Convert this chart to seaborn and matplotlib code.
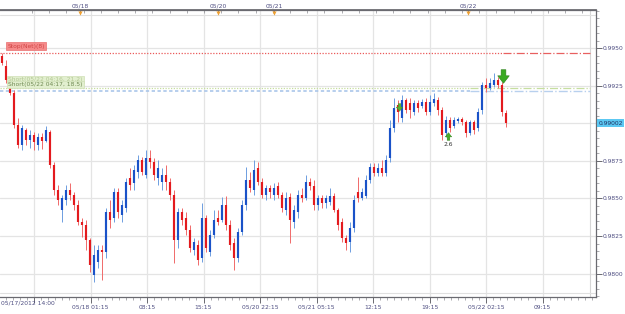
import numpy as np
import pandas as pd
import matplotlib
matplotlib.use("Agg")
import matplotlib.pyplot as plt
import matplotlib.transforms as mtransforms
from matplotlib.path import Path
import seaborn as sns

# ---------------- data (EUR/CHF-like 30 min candles) ----------------
opens = [0.99448, 0.99381, 0.99288, 0.99202, 0.98989, 0.98856, 0.98955, 0.98889, 0.98922, 0.98856,
         0.98909, 0.98882, 0.98942, 0.98723, 0.98556, 0.98423, 0.98490, 0.98556, 0.98523, 0.98457,
         0.98344, 0.98324, 0.98224, 0.97991, 0.98078, 0.98157, 0.98144, 0.98410, 0.98370, 0.98543,
         0.98390, 0.98437, 0.98636, 0.98603, 0.98676, 0.98756, 0.98656, 0.98769, 0.98743, 0.98636,
         0.98610, 0.98656, 0.98610, 0.98523, 0.98224, 0.98410, 0.98370, 0.98290, 0.98157, 0.98191,
         0.98104, 0.98370, 0.98144, 0.98257, 0.98370, 0.98357, 0.98457, 0.98324, 0.98204, 0.98104,
         0.98277, 0.98457, 0.98623, 0.98556, 0.98703, 0.98610, 0.98523, 0.98570, 0.98523, 0.98583,
         0.98523, 0.98423, 0.98510, 0.98344, 0.98410, 0.98523, 0.98503, 0.98610, 0.98583, 0.98457,
         0.98503, 0.98470, 0.98477, 0.98517, 0.98423, 0.98344, 0.98237, 0.98211, 0.98304, 0.98543,
         0.98503, 0.98517, 0.98623, 0.98709, 0.98670, 0.98703, 0.98670, 0.98769, 0.98969, 0.99122,
         0.99035, 0.99155, 0.99135, 0.99075, 0.99135, 0.99115, 0.99142, 0.99075, 0.99135, 0.99155,
         0.99088, 0.98936, 0.99022, 0.98982, 0.99015, 0.99029, 0.99009, 0.98936, 0.99009, 0.98969,
         0.99088, 0.99255, 0.99235, 0.99255, 0.99288, 0.99255, 0.99068]
highs = [0.99468, 0.99421, 0.99301, 0.99221, 0.99035, 0.98989, 0.98969, 0.98955, 0.98942, 0.98936,
         0.98936, 0.98982, 0.98955, 0.98743, 0.98590, 0.98523, 0.98590, 0.98603, 0.98543, 0.98490,
         0.98370, 0.98357, 0.98237, 0.98191, 0.98191, 0.98191, 0.98437, 0.98490, 0.98570, 0.98570,
         0.98490, 0.98636, 0.98703, 0.98723, 0.98789, 0.98776, 0.98822, 0.98822, 0.98769, 0.98756,
         0.98703, 0.98723, 0.98636, 0.98556, 0.98437, 0.98437, 0.98410, 0.98324, 0.98237, 0.98224,
         0.98470, 0.98390, 0.98290, 0.98423, 0.98423, 0.98510, 0.98517, 0.98357, 0.98237, 0.98304,
         0.98490, 0.98709, 0.98676, 0.98756, 0.98743, 0.98636, 0.98590, 0.98590, 0.98603, 0.98610,
         0.98543, 0.98543, 0.98537, 0.98457, 0.98556, 0.98570, 0.98656, 0.98636, 0.98623, 0.98523,
         0.98523, 0.98523, 0.98570, 0.98537, 0.98437, 0.98370, 0.98257, 0.98344, 0.98523, 0.98643,
         0.98570, 0.98656, 0.98736, 0.98736, 0.98736, 0.98756, 0.98789, 0.99022, 0.99168, 0.99155,
         0.99188, 0.99168, 0.99168, 0.99155, 0.99155, 0.99162, 0.99168, 0.99188, 0.99202, 0.99175,
         0.99108, 0.99049, 0.99042, 0.99042, 0.99042, 0.99042, 0.99022, 0.99022, 0.99022, 0.99102,
         0.99275, 0.99301, 0.99301, 0.99335, 0.99308, 0.99275, 0.99088]
lows = [0.99388, 0.99268, 0.99188, 0.98969, 0.98836, 0.98822, 0.98856, 0.98836, 0.98822, 0.98822,
        0.98829, 0.98876, 0.98703, 0.98523, 0.98457, 0.98344, 0.98457, 0.98490, 0.98423, 0.98324,
        0.98244, 0.98157, 0.98011, 0.97945, 0.98038, 0.97958, 0.98104, 0.98304, 0.98344, 0.98370,
        0.98344, 0.98410, 0.98556, 0.98556, 0.98636, 0.98656, 0.98636, 0.98703, 0.98623, 0.98590,
        0.98556, 0.98556, 0.98490, 0.98071, 0.98171, 0.98324, 0.98257, 0.98144, 0.98124, 0.98058,
        0.98078, 0.98144, 0.98118, 0.98237, 0.98324, 0.98344, 0.98290, 0.98157, 0.98024, 0.98078,
        0.98257, 0.98423, 0.98543, 0.98523, 0.98590, 0.98503, 0.98490, 0.98503, 0.98490, 0.98503,
        0.98410, 0.98390, 0.98204, 0.98304, 0.98370, 0.98477, 0.98490, 0.98556, 0.98423, 0.98423,
        0.98437, 0.98437, 0.98457, 0.98410, 0.98290, 0.98211, 0.98157, 0.98144, 0.98277, 0.98477,
        0.98490, 0.98503, 0.98603, 0.98650, 0.98650, 0.98650, 0.98650, 0.98743, 0.98942, 0.99009,
        0.99009, 0.99068, 0.99035, 0.99055, 0.99075, 0.99102, 0.99055, 0.99055, 0.99115, 0.99055,
        0.98889, 0.98909, 0.98942, 0.98969, 0.99002, 0.98989, 0.98909, 0.98922, 0.98929, 0.98949,
        0.99062, 0.99208, 0.99221, 0.99241, 0.99235, 0.99049, 0.98975]
closes = [0.99401, 0.99288, 0.99202, 0.98989, 0.98856, 0.98969, 0.98889, 0.98922, 0.98876, 0.98909,
          0.98882, 0.98955, 0.98723, 0.98556, 0.98490, 0.98503, 0.98556, 0.98523, 0.98457, 0.98344,
          0.98324, 0.98224, 0.98058, 0.98124, 0.98157, 0.98144, 0.98410, 0.98357, 0.98543, 0.98410,
          0.98457, 0.98610, 0.98590, 0.98689, 0.98756, 0.98676, 0.98769, 0.98743, 0.98656, 0.98703,
          0.98656, 0.98610, 0.98523, 0.98224, 0.98410, 0.98357, 0.98290, 0.98171, 0.98211, 0.98091,
          0.98370, 0.98171, 0.98257, 0.98357, 0.98344, 0.98457, 0.98324, 0.98191, 0.98104, 0.98277,
          0.98457, 0.98623, 0.98570, 0.98689, 0.98610, 0.98523, 0.98570, 0.98543, 0.98570, 0.98523,
          0.98437, 0.98503, 0.98357, 0.98423, 0.98523, 0.98503, 0.98610, 0.98583, 0.98457, 0.98503,
          0.98470, 0.98503, 0.98517, 0.98423, 0.98324, 0.98237, 0.98204, 0.98304, 0.98490, 0.98503,
          0.98543, 0.98623, 0.98709, 0.98670, 0.98703, 0.98670, 0.98756, 0.98969, 0.99102, 0.99075,
          0.99155, 0.99088, 0.99088, 0.99135, 0.99102, 0.99142, 0.99075, 0.99142, 0.99162, 0.99088,
          0.98922, 0.99022, 0.98969, 0.99022, 0.99029, 0.99009, 0.98936, 0.99009, 0.98955, 0.99075,
          0.99255, 0.99235, 0.99268, 0.99288, 0.99255, 0.99075, 0.99002]

first_label = "05/17/2012 14:00"
bottom_labels = ["", "05/18 01:15", "08:15", "15:15", "05/20 22:15", "05/21 05:15",
                 "12:15", "19:15", "05/22 02:15", "09:15"]
top_labels = ["05/18", "05/20", "05/21", "05/22"]
price_ticks = [0.9800, 0.9825, 0.9850, 0.9875, 0.9900, 0.9925, 0.9950]
stop_level = 0.99470
stop_text = "Stop(Net)(8)"
short_levels = [0.99235, 0.99218]
short_texts = ["Short(05/22 04:16, 21.2)", "Short(05/22 04:17, 18.5)"]
last_price = 0.99002
signal_text = "2.6"

# ---------------- layout / style ----------------
sns.set_theme(style="white")
plt.rcParams['font.family'] = ['DejaVu Sans']
FS = 4.3
TXT = '#4c4c80'

fig = plt.figure(figsize=(6.25, 3.14), dpi=100)
fig.patch.set_facecolor('white')
ax = fig.add_axes([0.0, 17 / 314, 596 / 625, 287 / 314])
ax.set_facecolor('white')

df = pd.DataFrame({'open': opens, 'high': highs, 'low': lows, 'close': closes})
df['idx'] = np.arange(len(df))
up = df[df['close'] >= df['open']]
dn = df[df['close'] < df['open']]

XMIN, XMAX = -0.5, 148.5
YMIN, YMAX = 0.978449, 0.997535
ax.set_xlim(XMIN, XMAX)
ax.set_ylim(YMIN, YMAX)

# grid
major_x = [8 + 14.125 * k for k in range(10)]
for xv in major_x:
    ax.axvline(xv, color='#e4e4e4', lw=0.9, zorder=0)
for yv in price_ticks:
    ax.axhline(yv, color='#e4e4e4', lw=0.9, zorder=0)
# inner light frame
ax.axvline(147.0, color='#d6d6d6', lw=0.8, zorder=0)
ax.axhline(0.99720, color='#e0e0e0', lw=0.8, zorder=0)
ax.axhline(0.97872, color='#e0e0e0', lw=0.8, zorder=0)

# candles
ax.vlines(up['idx'], up['low'], up['high'], color='#6d9de0', lw=0.7, zorder=3)
ax.vlines(dn['idx'], dn['low'], dn['high'], color='#f06a6a', lw=0.7, zorder=3)
ax.vlines(up['idx'], up['open'], up['close'], color='#1a52c8', lw=1.55, zorder=4)
ax.vlines(dn['idx'], dn['open'], dn['close'], color='#e31a1e', lw=1.55, zorder=4)

# stop line
ax.plot([XMIN, 125.25], [stop_level, stop_level], color='#ea5a5a', lw=0.9, ls=(0, (1, 1.3)), zorder=2)
ax.plot([125.25, 147.0], [stop_level, stop_level], color='#e86060', lw=0.9, ls='-.', zorder=2)
ax.text(1.3, 0.99514, stop_text, fontsize=FS, color='#d04545', va='center', ha='left', zorder=6,
        bbox=dict(boxstyle='square,pad=0.25', fc='#f58a8a', ec='#e87070', lw=0.5))

# short entry lines
ax.plot([XMIN, 117], [short_levels[0]] * 2, color='#c6dea0', lw=0.9, ls=(0, (1, 1.2)), zorder=2)
ax.plot([XMIN, 117], [short_levels[1]] * 2, color='#aac6ea', lw=1.2, ls=(0, (2, 1.5)), zorder=2)
ax.plot([117, 147], [short_levels[0]] * 2, color='#c6dea0', lw=0.9, ls='-.', zorder=2)
ax.plot([117, 147], [short_levels[1]] * 2, color='#b8d0ee', lw=1.0, ls='-.', zorder=2)
ax.text(1.5, 0.99292, short_texts[0], fontsize=FS, color='#b4c894', va='center', ha='left', zorder=6,
        bbox=dict(boxstyle='square,pad=0.2', fc='#e2efcf', ec='#cfe0b6', lw=0.5))
ax.text(1.5, 0.99258, short_texts[1], fontsize=FS, color='#6f8a52', va='center', ha='left', zorder=7,
        bbox=dict(boxstyle='square,pad=0.2', fc='#e2efcf', ec='#cfe0b6', lw=0.5))

# signal arrows
down_arrow = Path([(-0.35, 1), (0.35, 1), (0.35, 0.1), (0.85, 0.1), (0, -1), (-0.85, 0.1),
                   (-0.35, 0.1), (-0.35, 1)], closed=True)
up_arrow = Path([(-0.35, -1), (0.35, -1), (0.35, -0.1), (0.85, -0.1), (0, 1), (-0.85, -0.1),
                 (-0.35, -0.1), (-0.35, -1)], closed=True)
arrows = pd.DataFrame({'idx': [125.25, 99.25], 'price': [0.99315, 0.99108]})
sns.scatterplot(data=arrows.iloc[[0]], x='idx', y='price', marker=down_arrow, s=95,
                color='#3aaa22', edgecolor='#2a7d16', linewidth=0.4, ax=ax, zorder=8, legend=False)
sns.scatterplot(data=arrows.iloc[[1]], x='idx', y='price', marker=down_arrow, s=30,
                color='#5ab030', edgecolor='#3a8a1e', linewidth=0.3, ax=ax, zorder=8, legend=False)
sns.scatterplot(x=[111.5], y=[0.98916], marker=up_arrow, s=30, color='#4aac28',
                edgecolor='#2a7d16', linewidth=0.3, ax=ax, zorder=8, legend=False)
ax.text(111.5, 0.98860, signal_text, fontsize=FS, color='#333333', ha='center', va='center', zorder=8)

# ---------------- axes ----------------
ax.set_xlabel('')
ax.set_ylabel('')
ax.spines['left'].set_visible(False)
for side in ['top', 'bottom', 'right']:
    ax.spines[side].set_visible(True)
    ax.spines[side].set_color('#6a6a70')
    ax.spines[side].set_linewidth(0.9)

# y axis right
ax.yaxis.tick_right()
ax.set_yticks(price_ticks)
ax.set_yticklabels(['' if abs(v - 0.99) < 1e-9 else f'{v:.4f}' for v in price_ticks])
ax.set_yticks(np.arange(0.9785, 0.9976, 0.0005), minor=True)
ax.tick_params(axis='y', which='major', right=True, left=False, direction='out', length=4,
               width=0.7, color='#6a6a70', labelsize=FS, labelcolor=TXT, pad=1)
ax.tick_params(axis='y', which='minor', right=True, left=False, direction='out', length=2,
               width=0.5, color='#8a8a90')

# x axis bottom
ax.set_xticks(major_x)
ax.set_xticklabels(bottom_labels)
minor_x = np.arange(8 - 1.765625 * 4, XMAX, 1.765625)
ax.set_xticks(minor_x, minor=True)
ax.tick_params(axis='x', which='major', bottom=True, top=False, direction='out', length=4,
               width=0.7, color='#6a6a70', labelsize=FS, labelcolor=TXT, pad=1.5)
ax.tick_params(axis='x', which='minor', bottom=True, top=False, direction='out', length=2,
               width=0.5, color='#8a8a90')
ax.text(0.002, -0.012, first_label, transform=ax.transAxes, fontsize=FS, color=TXT,
        ha='left', va='top')

# top axis
top_pos = [19.5, 54, 68, 116.5]
sec = ax.secondary_xaxis('top')
sec.set_xticks(top_pos)
sec.set_xticklabels(top_labels)
sec.set_xticks(np.arange(7.5, 148, 4.3), minor=True)
sec.tick_params(axis='x', which='major', direction='in', length=3, width=0.6, color='#6a6a70',
                labelsize=FS, labelcolor=TXT, pad=1)
sec.tick_params(axis='x', which='minor', direction='in', length=2, width=0.5, color='#8a8a90')
sec.spines['top'].set_color('#6a6a70')
trans_top = mtransforms.blended_transform_factory(ax.transData, ax.transAxes)
ax.scatter(top_pos, [0.991] * 4, marker='v', s=9, color='#f0a030', transform=trans_top,
           clip_on=False, zorder=10, linewidths=0)

# last price tag
trans_r = mtransforms.blended_transform_factory(ax.transAxes, ax.transData)
ax.text(1.004, last_price, f'{last_price:.5f}', transform=trans_r, fontsize=FS, color='#203060',
        ha='left', va='center', clip_on=False, zorder=10,
        bbox=dict(boxstyle='square,pad=0.2', fc='#5cc8f2', ec='none'))

fig.savefig('out.png', dpi=100, facecolor='white')
